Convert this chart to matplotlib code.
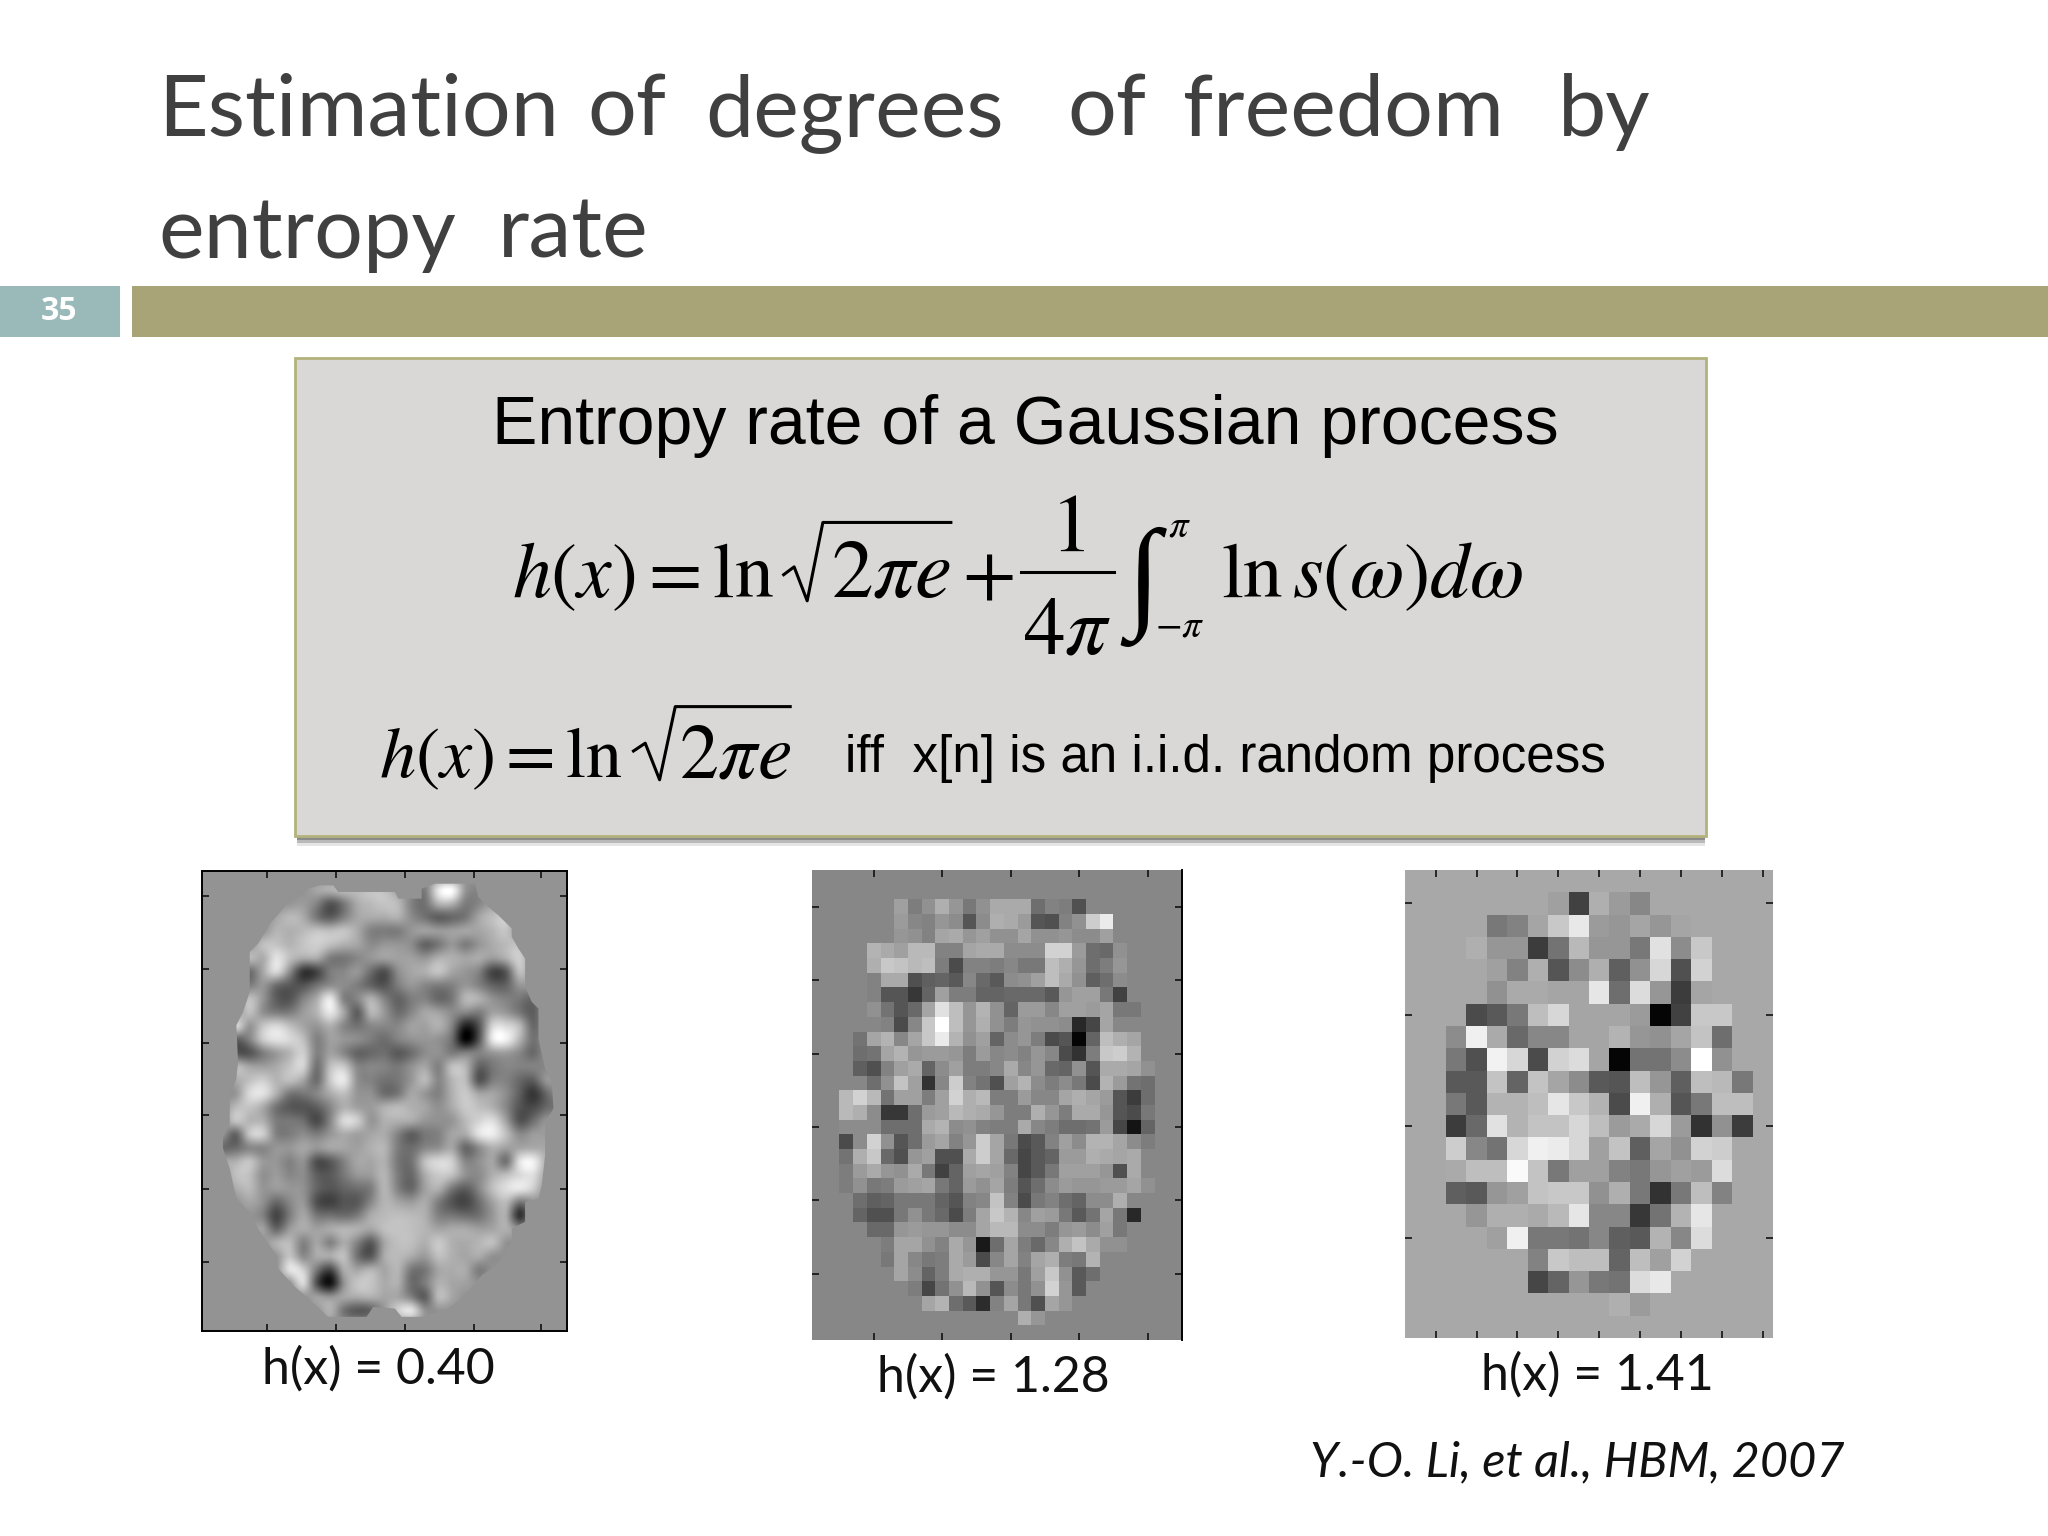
import numpy as np
import matplotlib
matplotlib.use("Agg")
import matplotlib.pyplot as plt
from matplotlib.patches import Rectangle, Polygon

plt.rcParams['mathtext.fontset'] = 'stix'

W, H = 2048, 1536
S = W / 1568  # positions below were measured on a 1568 wide view

title_words = [["Estimation", "of", "degrees", "of", "freedom", "by"], ["entropy", "rate"]]
title_word_x = [[121, 450, 540, 817, 906, 1193], [121, 381]]
slide_number = "35"
box_title = "Entropy rate of a Gaussian process"
iid_note = "iff  x[n] is an i.i.d. random process"
captions = ["h(x) = 0.40", "h(x) = 1.28", "h(x) = 1.41"]
citation = "Y.-O. Li, et al., HBM, 2007"

# grey levels, each row is (first column, values), rest is background
smooth_bg = 147
smooth_shape = (34, 27)
smooth_rows = {
    1: (8, [165,175,185,185,195,190,160,140,125,230,250,150,135]),
    2: (6, [150,155,130,85,120,170,185,195,185,130,115,175,175,125,135,160]),
    3: (5, [165,185,170,120,95,130,165,170,170,175,140,115,95,105,120,165,190,200]),
    4: (5, [180,175,185,195,190,195,170,130,125,125,150,160,155,160,165,165,180,195]),
    5: (4, [190,195,180,195,205,190,175,165,140,150,150,140,100,120,150,125,150,170,185,190]),
    6: (3, [185,170,225,190,170,170,125,120,135,150,160,160,160,150,175,175,165,170,155,175,205]),
    7: (3, [110,165,215,140,55,70,125,135,150,110,80,140,165,175,195,165,150,130,70,90,190]),
    8: (3, [125,150,110,90,85,115,140,140,125,100,85,125,150,135,125,130,150,130,100,100,150]),
    9: (3, [190,150,95,85,130,170,230,130,135,175,130,100,125,130,105,120,180,175,145,130,120,105]),
    10: (3, [190,145,125,125,155,180,230,165,95,180,150,110,135,165,160,140,135,125,160,150,120,95]),
    11: (2, [215,150,195,215,190,165,150,175,135,115,135,135,135,160,160,175,130,35,85,210,215,185,105]),
    12: (2, [100,130,200,225,215,190,130,160,150,140,125,110,130,145,150,145,110,5,85,230,240,180,115]),
    13: (2, [90,85,125,155,180,205,130,160,135,100,105,110,90,110,140,145,125,130,130,150,155,135,105]),
    14: (2, [185,165,160,170,195,210,115,190,200,135,135,130,120,145,165,130,190,180,100,120,135,130,130,135]),
    15: (2, [170,190,205,180,190,165,110,200,230,145,130,115,120,150,185,135,180,185,85,125,130,105,95,150]),
    16: (2, [150,215,225,175,120,120,135,170,190,150,145,110,120,165,150,130,175,200,165,165,140,95,55,105]),
    17: (2, [185,195,170,115,90,85,95,135,175,160,155,175,185,175,165,145,170,200,190,175,135,85,75,105,120]),
    18: (2, [195,180,175,125,120,110,75,135,215,205,150,175,175,170,150,145,150,185,210,220,160,85,110,150]),
    19: (1, [150,100,195,205,130,125,140,125,150,170,160,165,170,130,95,120,130,165,170,225,235,190,140,155,155]),
    20: (1, [110,110,135,135,150,150,165,150,165,165,160,175,180,125,110,135,145,165,105,140,175,160,165,170,165]),
    21: (1, [165,175,195,155,150,130,145,80,90,130,165,165,175,120,115,190,215,205,135,145,165,115,225,240,170]),
    22: (2, [190,190,145,155,135,140,95,90,120,150,155,180,125,105,170,200,190,145,140,175,190,215,220,160]),
    23: (2, [170,185,150,155,150,145,100,85,100,110,125,180,130,105,160,175,120,95,135,190,220,230,205]),
    24: (3, [165,145,105,135,150,80,65,85,90,135,180,165,155,170,125,85,70,110,160,185,120]),
    25: (4, [130,70,125,165,120,115,110,125,170,185,190,185,175,130,120,110,115,150,170,50]),
    26: (4, [160,105,155,170,160,170,180,175,165,190,195,190,180,165,170,170,160,165,175]),
    27: (5, [175,185,130,165,130,170,130,90,165,190,190,175,200,175,170,180,190]),
    28: (6, [195,140,170,170,190,115,90,170,185,170,155,190,175,165,170,145]),
    29: (6, [225,205,120,70,170,165,180,165,180,120,120,165,170,170,125]),
    30: (7, [215,80,20,145,195,195,170,175,110,125,175,165,160]),
    31: (8, [160,150,165,170,175,165,165,130,95,185,165]),
    32: (9, [175,115,90,100,150,205,225]),
}
# edge of the head in the smooth map, in grid units times 40.5 (x) and 40.6 (y)
head_x = [375,415,430,600,610,680,680,720,840,850,880,910,950,950,970,990,990,1010,1030,1030,1050,1070,
          1075,1050,1050,1040,1030,990,990,950,950,905,860,810,760,680,620,600,535,515,400,330,300,250,
          245,190,165,125,105,85,85,105,105,125,130,125,145,165,165,190,230,270,290]
head_y = [60,60,80,80,100,100,70,55,55,95,125,150,190,215,250,280,365,410,430,520,610,650,
          730,770,870,960,1000,1010,1070,1090,1130,1200,1230,1290,1330,1355,1355,1330,1325,1355,1355,1290,1265,1210,
          1170,1090,1040,1000,910,850,810,780,700,640,590,480,440,380,260,235,170,125,85]

medium_bg = 135
medium_shape = (32, 27)
medium_rows = {
    2: (6, [160,125,145,175,150,120,145,170,170,170,110,130,125,80]),
    3: (6, [155,135,130,150,140,85,140,175,170,155,85,80,130,145,205,235]),
    4: (6, [150,145,130,165,170,150,160,145,145,165,145,145,150,140,140,160]),
    5: (4, [180,170,160,185,185,130,130,165,170,170,140,140,140,210,210,155,110,105,145]),
    6: (4, [175,200,195,185,190,125,75,130,130,125,135,120,120,190,175,150,110,125,150]),
    7: (4, [130,170,170,80,95,100,90,135,105,90,140,145,160,190,170,145,95,110,140]),
    8: (4, [130,85,85,55,100,160,125,125,100,100,105,105,105,90,150,160,160,120,65]),
    9: (4, [145,115,85,105,165,225,190,150,180,145,100,155,155,135,160,160,155,165,120,120]),
    10: (4, [135,130,75,135,200,255,190,150,175,145,125,150,145,145,140,40,70,165,135,135]),
    11: (3, [115,165,180,135,165,200,235,180,145,160,100,140,150,125,75,85,5,100,190,175,165]),
    12: (3, [110,115,165,180,150,155,155,150,125,155,135,140,130,150,135,75,50,125,200,205,180]),
    13: (3, [95,80,130,160,170,100,140,160,125,125,135,170,135,150,105,100,145,85,170,170,165,145]),
    14: (4, [110,145,195,160,50,135,205,130,115,80,160,180,140,125,140,120,75,180,155,115,110]),
    15: (2, [185,210,185,115,160,160,125,160,210,175,185,125,125,155,135,135,165,175,165,155,85,60,110]),
    16: (2, [185,175,140,55,55,110,155,160,185,175,170,150,125,125,175,150,125,170,170,150,85,75,120]),
    17: (2, [140,140,140,110,110,110,170,180,140,145,130,125,125,170,135,125,110,110,115,155,70,20,100]),
    18: (2, [75,140,210,145,85,110,155,165,130,150,205,165,120,75,90,130,160,140,180,180,165,140,125]),
    19: (2, [115,175,200,105,80,150,160,80,80,170,205,165,105,70,90,100,155,155,175,170,165,170]),
    20: (2, [125,155,170,150,145,170,120,65,100,160,165,160,130,70,90,120,160,160,160,150,80,170]),
    21: (2, [125,145,120,125,155,160,165,120,100,155,145,165,125,85,110,140,155,150,150,155,155,165,145]),
    22: (3, [110,95,100,120,120,120,100,85,130,135,195,130,75,120,130,110,100,140,140,175,135]),
    23: (3, [100,80,80,120,145,120,105,75,125,165,200,180,135,160,155,120,90,115,165,120,40]),
    24: (4, [105,105,150,155,150,150,140,140,165,185,185,140,140,125,150,155,140,160,120]),
    25: (5, [125,165,165,145,130,170,150,25,110,165,125,105,135,175,195,170,145,145]),
    26: (5, [120,165,135,120,125,170,155,75,135,165,130,165,175,125,120,180]),
    27: (6, [165,140,100,125,170,175,175,150,150,120,160,200,145,90,110]),
    28: (7, [125,70,115,145,185,145,85,140,120,145,210,150,90]),
    29: (8, [165,180,110,90,45,130,165,120,80,165,150]),
    30: (15, [175,150]),
}

coarse_bg = 168
coarse_shape = (21, 18)
coarse_rows = {
    1: (7, [160,65,175,155,135]),
    2: (4, [120,130,165,200,232,155,150,165,150,165]),
    3: (3, [175,150,150,60,115,185,150,150,120,225,140,200]),
    4: (4, [160,130,175,85,140,175,95,145,215,80,210]),
    5: (4, [145,170,170,165,165,230,110,220,150,60,165]),
    6: (3, [75,90,120,190,215,165,165,165,155,5,65,200,200]),
    7: (2, [140,240,170,105,135,135,165,165,180,150,145,165,195,110]),
    8: (2, [120,80,242,215,75,210,220,165,5,115,115,140,255,145]),
    9: (2, [90,90,195,100,195,165,140,90,85,190,150,95,190,185,120]),
    10: (2, [120,90,180,180,190,230,200,180,75,240,175,85,120,190,190]),
    11: (2, [60,105,225,180,195,195,215,190,155,170,215,155,50,145,60]),
    12: (2, [205,135,115,215,240,235,215,160,195,95,165,145,210,205]),
    13: (2, [170,190,190,250,195,120,160,160,130,120,150,160,155,220]),
    14: (2, [95,90,150,160,195,200,200,145,175,120,50,120,190,130]),
    15: (3, [150,175,175,170,185,230,135,135,55,115,180,230]),
    16: (4, [160,240,120,120,115,135,95,90,180,135,220]),
    17: (6, [130,200,190,190,100,190,160,210]),
    18: (6, [70,100,150,120,115,220,232]),
    19: (10, [175,155]),
}


def build_image(shape, bg, rows):
    img = np.full(shape, bg, dtype=float)
    for r, (start, vals) in rows.items():
        img[r, start:start + len(vals)] = vals
    return img


def panel(fig, box, img, interp, xticks, yticks, spines):
    left, top, right, bottom = box
    ax = fig.add_axes([left / W, 1 - bottom / H, (right - left) / W, (bottom - top) / H])
    im = ax.imshow(img, cmap="gray", vmin=0, vmax=255, aspect="auto", interpolation=interp)
    ax.set_xticks(xticks)
    ax.set_yticks(yticks)
    ax.set_xticklabels([])
    ax.set_yticklabels([])
    ax.tick_params(direction="in", length=5, width=1.2, top=True, right=True, color="#111111")
    for name, sp in ax.spines.items():
        sp.set_visible(name in spines)
        sp.set_linewidth(1.4)
    return ax, im


def math(x, y, s, size, **kw):
    bg.text(x * S, y * S, s, fontsize=size, color="black", va="baseline", **kw)


fig = plt.figure(figsize=(W / 100, H / 100), dpi=100, facecolor="white")
bg = fig.add_axes([0, 0, 1, 1])
bg.set_xlim(0, W)
bg.set_ylim(H, 0)
bg.axis("off")

# title and header bars
title_font = "Lato"
for words, xs, base in zip(title_words, title_word_x, [136, 258]):
    for word, x in zip(words, xs):
        bg.text(x * S, base, word, fontsize=62, color="#404040", family=title_font, va="baseline")
bg.add_patch(Rectangle((0, 286), 120, 51, fc="#9ab9b9", ec="none"))
bg.add_patch(Rectangle((132, 286), W - 132, 51, fc="#a9a478", ec="none"))
bg.text(59, 311, slide_number, fontsize=23, color="white", family="Open Sans", weight="bold",
        ha="center", va="center")

# grey formula box with soft shadow
for grow, alpha in [(10, 0.15), (7, 0.3), (4, 0.45)]:
    bg.add_patch(Rectangle((297, 360), 1408, 476 + grow, fc="#555555", ec="none", alpha=alpha))
bg.add_patch(Rectangle((295, 358), 1411, 478, fc="#d9d8d6", ec="#b3b27c", lw=2))

bg.text(492, 444, box_title, fontsize=49, family="Liberation Sans", color="black", va="baseline")

# first formula, assembled piece by piece
math(392, 457, r"$h(x)=\ln$", 56)
bg.plot(np.array([600, 608, 618, 630, 728]) * S, np.array([440, 434, 460, 400, 400]) * S, color="black", lw=2.2)
math(636, 457, r"$2\pi e$", 60)
math(756, 457, r"$+$", 56, ha="center")
math(817, 422, r"$1$", 60, ha="center")
bg.plot(np.array([782, 853]) * S, np.array([438, 438]) * S, color="black", lw=2.2)
math(817, 500, r"$4\pi$", 60, ha="center")
math(862, 470, "\u222b", 88, family="Liberation Serif")
math(894, 411, r"$\pi$", 28)
math(884, 487, r"$-\pi$", 28)
math(935, 457, r"$\ln s(\omega)d\omega$", 57)

# second formula
math(290, 595, r"$h(x)=\ln$", 52)
bg.plot(np.array([485, 494, 505, 517, 605]) * S, np.array([575, 569, 597, 541, 541]) * S, color="black", lw=2.2)
math(520, 595, r"$2\pi e$", 56)
bg.text(845, 772, iid_note, fontsize=36.8, family="Liberation Sans", color="black", va="baseline")

# the three example maps
ax1, im1 = panel(fig, (202, 871, 567, 1331), build_image(smooth_shape, smooth_bg, smooth_rows), "spline16",
                 [4.34, 9.4, 14.5, 19.6, 24.6], [1.37, 6.74, 12.2, 17.5, 23, 28.4],
                 ["top", "left", "bottom", "right"])
ax1.set_facecolor(str(smooth_bg / 255))
head = Polygon(np.column_stack([(np.array(head_x) - 22) / 40.5 - 0.5, (np.array(head_y) - 17) / 40.6 - 0.5]),
               closed=True, transform=ax1.transData)
im1.set_clip_path(head)
panel(fig, (812, 870, 1182, 1340), build_image(medium_shape, medium_bg, medium_rows), "nearest",
      [4, 9, 14, 19, 24], [2, 7, 12, 17, 22, 27], ["right"])
panel(fig, (1405, 870, 1773, 1338), build_image(coarse_shape, coarse_bg, coarse_rows), "nearest",
      [1, 3, 5, 7, 9, 11, 13, 15, 17], [1, 6, 11, 16], [])

# captions
bg.text(378, 1384, captions[0], fontsize=36, family=title_font, color="#111111", ha="center", va="baseline")
bg.text(993, 1392, captions[1], fontsize=36, family=title_font, color="#111111", ha="center", va="baseline")
bg.text(1597, 1390, captions[2], fontsize=36, family=title_font, color="#111111", ha="center", va="baseline")
bg.text(1310, 1476, citation, fontsize=35, family=title_font, style="italic", color="#111111", va="baseline")

fig.savefig("out.png", dpi=100)
